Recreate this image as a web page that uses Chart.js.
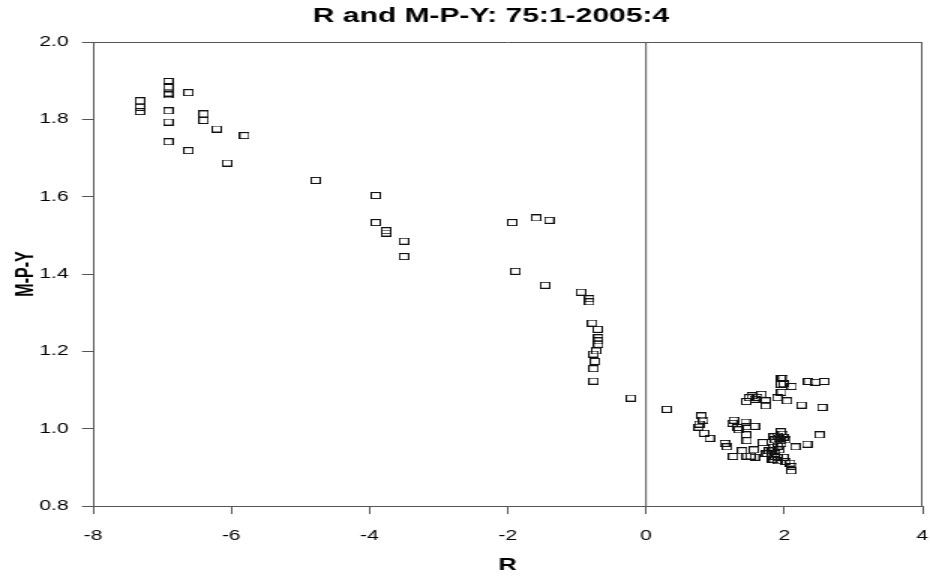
<!DOCTYPE html>
<html>
<head>
<meta charset="utf-8">
<script src="https://cdn.jsdelivr.net/npm/chart.js@4/dist/chart.umd.min.js"></script>
<style>
  html, body { margin: 0; padding: 0; background: #fff; }
</style>
</head>
<body>
<canvas id="c" width="620" height="576" style="display:block;width:930px;height:576px;"></canvas>
<script>
// ---- data ----
const chartTitle = 'R and M-P-Y: 75:1-2005:4';
const xAxisTitle = 'R';
const yAxisTitle = 'M-P-Y';

const rValues = [
  -7.32, -7.32, -7.32,
  -6.91, -6.91, -6.91, -6.91, -6.91, -6.91, -6.91,
  -6.62, -6.40, -6.40, -6.21, -6.62, -5.81, -6.06, -4.78, -3.91, -3.91, -3.76, -3.76, -3.50, -3.50,
  -1.935, -1.59, -1.40, -1.89, -1.46, -0.94, -0.82, -0.82, -0.78, -0.70, -0.69, -0.69, -0.69, -0.72, -0.76, -0.74, -0.76, -0.76, -0.22, 0.30,
  0.80, 0.83, 0.77, 0.76, 0.84, 0.92, 1.14, 1.17, 1.26, 1.27, 1.25, 1.32, 1.34, 1.44, 1.45, 1.57, 1.45, 1.46, 1.39, 1.46, 1.51, 1.56, 1.57, 1.69, 1.75,
  1.45, 1.49, 1.53, 1.57, 1.61, 1.67, 1.73, 1.73, 1.90, 1.96, 2.04, 2.25, 2.55, 1.95, 1.98, 1.95, 1.99, 2.11, 2.35, 2.45, 2.58,
  1.95, 1.98, 1.90, 1.85, 1.99, 1.87, 1.95, 2.02, 1.91, 1.85, 1.82, 1.78, 1.73, 1.83, 1.87, 1.82, 1.85, 1.90, 1.99, 2.02, 2.09, 2.11, 2.10, 2.16, 2.33, 2.51, 1.92, 1.96, 1.87, 1.90, 1.93
];
const mpyValues = [
  1.848, 1.831, 1.820,
  1.898, 1.884, 1.868, 1.863, 1.822, 1.793, 1.742,
  1.869, 1.814, 1.797, 1.775, 1.719, 1.758, 1.687, 1.642, 1.603, 1.533, 1.512, 1.506, 1.485, 1.445,
  1.533, 1.545, 1.539, 1.407, 1.371, 1.353, 1.336, 1.328, 1.273, 1.257, 1.235, 1.227, 1.218, 1.201, 1.193, 1.174, 1.155, 1.123, 1.079, 1.050,
  1.033, 1.022, 1.012, 1.004, 0.988, 0.975, 0.962, 0.953, 0.928, 1.022, 1.014, 1.003, 0.997, 1.017, 1.005, 1.006, 0.984, 0.969, 0.943, 0.929, 0.929, 0.945, 0.926, 0.964, 0.936,
  1.070, 1.080, 1.085, 1.076, 1.081, 1.089, 1.072, 1.059, 1.080, 1.094, 1.072, 1.061, 1.055, 1.130, 1.130, 1.115, 1.116, 1.109, 1.122, 1.120, 1.122,
  0.992, 0.986, 0.981, 0.979, 0.978, 0.971, 0.969, 0.971, 0.955, 0.952, 0.943, 0.943, 0.935, 0.932, 0.928, 0.921, 0.919, 0.917, 0.926, 0.915, 0.911, 0.902, 0.891, 0.953, 0.960, 0.984, 0.975, 0.962, 0.935, 0.925, 0.945
];

const xMin = -8, xMax = 4, xStep = 2;
const yMin = 0.8, yMax = 2.0, yStep = 0.2;
const zeroLineR = [0, 0];
const zeroLineY = [yMin, yMax];

// ---- build datasets ----
const points = rValues.map((r, i) => ({ x: r, y: mpyValues[i] }));
const zeroLine = zeroLineR.map((r, i) => ({ x: r, y: zeroLineY[i] }));

// hollow square marker (drawn on the 620-wide canvas, shown stretched to 930)
const marker = document.createElement('canvas');
marker.width = 7; marker.height = 7;
(function () {
  const m = marker.getContext('2d');
  m.strokeStyle = '#111';
  m.lineWidth = 1;
  m.strokeRect(0.5, 0.5, 6, 6);
})();

const axisColor = '#555';
const fontFamily = '"Liberation Sans", Arial, Helvetica, sans-serif';

// layout (canvas units): plot area from x=62 to 616; the title box is widened
// to the right so that the title sits a little right of the canvas centre
const plotLeft = 62;
const rightGap = 4;
const titleShift = 34.6;

const framePlugin = {
  id: 'frame',
  afterDatasetsDraw(chart) {
    const { ctx, chartArea: a } = chart;
    ctx.save();
    ctx.strokeStyle = axisColor;
    ctx.lineWidth = 1;
    ctx.beginPath();
    ctx.moveTo(a.left, Math.round(a.top) + 0.5);
    ctx.lineTo(a.right, Math.round(a.top) + 0.5);
    ctx.moveTo(Math.round(a.right) - 0.5, a.top);
    ctx.lineTo(Math.round(a.right) - 0.5, a.bottom);
    ctx.stroke();
    ctx.restore();
  }
};

new Chart(document.getElementById('c'), {
  type: 'scatter',
  data: {
    datasets: [
      {
        type: 'line',
        data: zeroLine,
        borderColor: axisColor,
        borderWidth: 1,
        pointRadius: 0,
        fill: false,
        order: 2
      },
      {
        data: points,
        pointStyle: marker,
        pointRadius: 3,
        borderColor: '#111',
        backgroundColor: 'rgba(0,0,0,0)',
        order: 1
      }
    ]
  },
  options: {
    responsive: false,
    animation: false,
    devicePixelRatio: 1,
    layout: { padding: { left: 0, right: -titleShift, top: 0, bottom: 0 } },
    plugins: {
      legend: { display: false },
      tooltip: { enabled: false },
      title: {
        display: true,
        text: chartTitle,
        color: '#000',
        font: { family: fontFamily, size: 20, weight: 'bold' },
        padding: { top: 4, bottom: 14 }
      }
    },
    scales: {
      x: {
        type: 'linear',
        min: xMin, max: xMax,
        ticks: {
          stepSize: xStep,
          color: '#000',
          font: { family: fontFamily, size: 14 },
          padding: 14,
          maxRotation: 0
        },
        grid: { drawOnChartArea: false, tickLength: 8, color: axisColor },
        border: { color: axisColor, width: 1 },
        title: {
          display: true,
          text: xAxisTitle,
          color: '#000',
          font: { family: fontFamily, size: 17, weight: 'bold' },
          padding: { top: 0, bottom: 0 }
        },
        afterFit(s) { s.height = 70; s.paddingLeft = 0; s.paddingRight = 0; }
      },
      y: {
        type: 'linear',
        position: 'left',
        min: yMin, max: yMax,
        ticks: {
          stepSize: yStep,
          color: '#000',
          font: { family: fontFamily, size: 14 },
          padding: 9,
          callback: v => Number(v).toFixed(1)
        },
        grid: { drawOnChartArea: false, tickLength: 7.3, color: axisColor },
        border: { color: axisColor, width: 1 },
        title: {
          display: true,
          text: yAxisTitle,
          color: '#000',
          font: { family: fontFamily, size: 16, weight: 'bold' },
          padding: { top: 7.8, bottom: 0 }
        },
        afterFit(s) { s.width = plotLeft; s.paddingTop = 0; s.paddingBottom = 0; }
      },
      yRight: {
        type: 'linear',
        position: 'right',
        min: yMin, max: yMax,
        ticks: { display: false },
        grid: { display: false },
        border: { display: false },
        title: { display: false },
        afterFit(s) { s.width = rightGap + titleShift; s.paddingTop = 0; s.paddingBottom = 0; }
      }
    }
  },
  plugins: [framePlugin]
});
</script>
</body>
</html>
